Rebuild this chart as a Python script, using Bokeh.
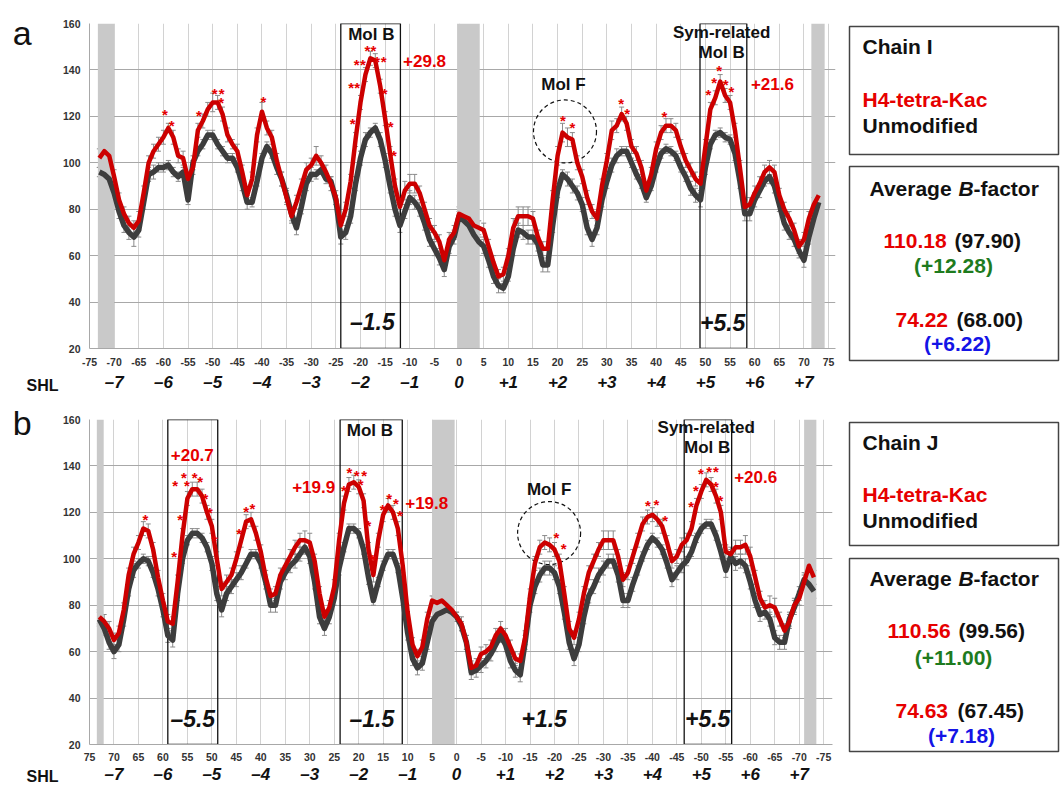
from bokeh.plotting import figure
from bokeh.models import (Range1d, FixedTicker, ColumnDataSource, Whisker, LinearAxis,
                          TeeHead, Row, Column)
from bokeh.core.properties import value
from bokeh.embed import file_html
from bokeh.resources import INLINE

FONT = "Liberation Sans"
RED_LINE = "#cc0000"
RED_TXT = "#e60000"
DARK = "#3d3d3d"

# ---------------- data: panel a (Chain I), positions -73 .. 73 ----------------
a_pos = list(range(-73, 74))
a_h4 = [102, 105, 103, 94, 84, 78, 74, 72, 75, 87,
        100, 105, 108, 111, 115, 111, 103, 102, 93, 98,
        114, 118, 123, 126, 126, 121, 112, 108, 105, 96,
        86, 93, 112, 122, 115, 111, 101, 93, 85, 77,
        83, 90, 97, 99, 103, 100, 96, 91, 85, 73,
        80, 92, 110, 126, 138, 145, 144, 133, 119, 104,
        90, 81, 88, 91, 91, 87, 80, 73, 70, 66,
        58, 67, 70, 78, 77, 76, 73, 72, 71, 64,
        57, 51, 52, 60, 72, 77, 77, 77, 76, 68,
        63, 63, 84, 103, 113, 111, 110, 100, 94, 85,
        79, 76, 90, 101, 114, 116, 121, 117, 107, 104,
        98, 88, 95, 106, 113, 116, 116, 114, 107, 101,
        97, 93, 91, 107, 123, 128, 135, 129, 126, 114,
        98, 81, 82, 87, 91, 96, 98, 96, 86, 80,
        76, 71, 64, 67, 76, 82, 86]
a_h4_err = [4, 5, 4, 3, 3, 3, 3, 3, 4, 3,
            3, 3, 3, 3, 2, 3, 3, 3, 3, 3,
            3, 3, 3, 4, 3, 3, 3, 2, 3, 3,
            3, 3, 3, 4, 3, 3, 3, 3, 3, 3,
            3, 3, 3, 3, 4, 3, 3, 3, 3, 3,
            3, 3, 3, 3, 3, 3, 3, 3, 3, 3,
            3, 3, 4, 4, 4, 3, 3, 3, 3, 3,
            3, 3, 3, 3, 2, 2, 3, 3, 3, 3,
            3, 3, 3, 3, 4, 4, 4, 4, 3, 3,
            3, 3, 4, 4, 4, 4, 3, 3, 3, 3,
            3, 3, 3, 3, 4, 3, 3, 3, 3, 3,
            3, 3, 3, 3, 3, 3, 3, 3, 3, 3,
            3, 3, 3, 3, 3, 3, 3, 3, 3, 3,
            3, 3, 3, 3, 3, 3, 3, 3, 3, 3,
            3, 3, 3, 3, 3, 3, 3]
a_unmod = [96, 95, 93, 87, 79, 73, 70, 68, 71, 83,
           95, 96, 98, 98, 99, 96, 94, 96, 84, 100,
           105, 108, 112, 112, 108, 105, 102, 102, 98, 91,
           83, 83, 92, 102, 107, 104, 98, 93, 86, 78,
           72, 81, 91, 95, 95, 97, 93, 92, 84, 68,
           70, 77, 91, 102, 110, 113, 115, 110, 101, 90,
           80, 73, 79, 85, 83, 80, 74, 67, 63, 59,
           54, 64, 68, 77, 75, 73, 69, 66, 64, 58,
           51, 47, 46, 51, 63, 71, 70, 68, 68, 65,
           56, 56, 73, 88, 95, 93, 90, 87, 82, 72,
           67, 72, 84, 92, 99, 103, 105, 105, 100, 95,
           91, 85, 90, 98, 104, 106, 105, 103, 98, 94,
           89, 86, 84, 98, 108, 112, 113, 111, 110, 104,
           92, 78, 78, 84, 88, 92, 94, 90, 82, 74,
           70, 67, 62, 58, 68, 76, 83]
a_unmod_err = [2, 2, 3, 3, 3, 3, 3, 4, 3, 3,
               3, 3, 2, 2, 2, 2, 2, 2, 2, 3,
               2, 2, 2, 2, 2, 2, 2, 2, 2, 3,
               3, 2, 2, 2, 2, 2, 3, 3, 3, 3,
               3, 3, 3, 3, 2, 2, 2, 2, 2, 3,
               3, 3, 3, 3, 3, 2, 2, 3, 3, 3,
               3, 3, 3, 3, 3, 3, 3, 3, 3, 3,
               3, 3, 3, 2, 2, 2, 2, 2, 3, 3,
               3, 3, 2, 2, 3, 3, 3, 3, 3, 3,
               3, 3, 3, 3, 2, 3, 3, 3, 3, 3,
               3, 3, 3, 3, 3, 3, 2, 2, 2, 2,
               2, 2, 2, 2, 2, 2, 2, 2, 2, 2,
               3, 3, 3, 3, 2, 2, 2, 2, 2, 3,
               3, 3, 3, 3, 3, 2, 3, 3, 3, 3,
               3, 3, 3, 3, 3, 3, 3]

# ---------------- data: panel b (Chain J), positions 73 .. -73 ----------------
b_pos = list(range(73, -74, -1))
b_h4 = [75, 73, 70, 65, 68, 78, 93, 102, 107, 113,
        112, 104, 92, 82, 73, 72, 90, 110, 126, 130,
        130, 127, 120, 114, 100, 87, 90, 93, 100, 108,
        116, 117, 111, 103, 92, 84, 85, 93, 97, 101,
        105, 108, 108, 107, 99, 85, 75, 79, 88, 108,
        124, 132, 133, 131, 125, 104, 93, 108, 119, 123,
        120, 113, 97, 77, 63, 58, 62, 74, 82, 81,
        82, 80, 78, 75, 72, 64, 53, 54, 59, 60,
        62, 67, 70, 67, 62, 57, 56, 66, 84, 98,
        105, 107, 106, 104, 99, 85, 70, 66, 74, 85,
        94, 99, 104, 108, 108, 108, 101, 91, 94, 101,
        108, 115, 118, 119, 117, 114, 107, 99, 101, 106,
        108, 113, 123, 129, 134, 132, 127, 120, 103, 102,
        105, 105, 106, 101, 92, 83, 79, 80, 79, 74,
        69, 73, 80, 83, 90, 97, 92]
b_h4_err = [3, 3, 3, 3, 3, 3, 3, 3, 3, 3,
            3, 3, 3, 3, 3, 3, 3, 3, 3, 3,
            3, 3, 3, 3, 3, 3, 3, 3, 3, 3,
            3, 3, 3, 3, 3, 3, 3, 3, 3, 3,
            3, 3, 4, 4, 3, 3, 3, 3, 3, 3,
            3, 3, 3, 3, 3, 3, 3, 3, 3, 3,
            3, 3, 3, 3, 3, 3, 3, 3, 2, 2,
            2, 2, 2, 2, 3, 3, 3, 3, 3, 3,
            3, 3, 3, 3, 3, 3, 3, 3, 3, 3,
            3, 3, 3, 3, 3, 3, 3, 3, 3, 3,
            3, 3, 3, 4, 4, 4, 3, 3, 3, 3,
            3, 3, 3, 3, 3, 3, 3, 3, 3, 3,
            3, 3, 3, 3, 3, 3, 3, 3, 3, 3,
            3, 3, 4, 4, 3, 3, 3, 4, 4, 3,
            3, 3, 3, 3, 3, 4, 3]
b_unmod = [74, 70, 64, 60, 63, 74, 87, 95, 98, 100,
           99, 94, 87, 78, 67, 65, 85, 100, 108, 111,
           111, 109, 105, 98, 85, 78, 85, 88, 91, 94,
           98, 102, 102, 98, 90, 80, 80, 90, 94, 97,
           99, 102, 105, 101, 90, 75, 70, 75, 83, 96,
           105, 113, 113, 111, 104, 92, 82, 90, 97, 102,
           102, 96, 83, 68, 57, 53, 55, 64, 73, 76,
           77, 78, 77, 75, 71, 64, 51, 52, 54, 56,
           59, 63, 67, 63, 56, 52, 50, 64, 80, 88,
           93, 96, 96, 94, 88, 77, 64, 57, 63, 75,
           84, 88, 93, 96, 99, 99, 93, 82, 82, 89,
           95, 101, 106, 109, 107, 104, 98, 91, 94, 97,
           99, 103, 109, 113, 115, 115, 110, 103, 95, 101,
           98, 99, 97, 90, 82, 76, 77, 74, 66, 64,
           64, 74, 79, 85, 91, 89, 86]
b_unmod_err = [3, 3, 3, 3, 3, 3, 3, 3, 2, 2,
               2, 2, 3, 3, 3, 3, 3, 2, 2, 2,
               2, 2, 2, 3, 3, 3, 3, 3, 3, 3,
               2, 2, 2, 2, 3, 3, 3, 3, 3, 3,
               3, 3, 3, 3, 3, 3, 3, 3, 3, 3,
               2, 2, 2, 2, 2, 3, 2, 2, 2, 2,
               2, 2, 3, 3, 3, 3, 3, 3, 2, 2,
               2, 2, 2, 2, 2, 3, 3, 3, 3, 3,
               3, 3, 3, 3, 3, 3, 3, 3, 3, 3,
               3, 3, 3, 3, 3, 3, 3, 3, 3, 3,
               3, 3, 3, 3, 3, 3, 3, 3, 3, 3,
               2, 2, 2, 2, 2, 2, 2, 3, 3, 3,
               2, 2, 2, 2, 2, 2, 2, 3, 3, 3,
               3, 3, 3, 3, 3, 3, 3, 3, 3, 3,
               3, 3, 3, 3, 3, 3, 3]

# axis ticks
y_ticks = [20, 40, 60, 80, 100, 120, 140, 160]
x_ticks = list(range(-75, 80, 5))
x_tick_labels = [str(t) for t in x_ticks]
shl_labels = ["\u20137", "\u20136", "\u20135", "\u20134", "\u20133", "\u20132", "\u20131", "0",
              "+1", "+2", "+3", "+4", "+5", "+6", "+7"]
a_shl_pos = [-70, -60, -50, -40, -30, -20, -10, 0, 10, 20, 30, 40, 50, 60, 70]
b_shl_pos = [70, 60, 50, 40, 30, 20, 10, 0, -10, -20, -30, -40, -50, -60, -70]

# annotations (shaded DNA ends / dyad, boxes, circles, labels, asterisks)
a_bands = [(-73.3, -70.0), (-0.4, 4.2), (71.5, 74.2)]
b_bands = [(73.5, 72.1), (5.0, 0.4), (-71.0, -73.5)]
a_boxes = [(-24.0, -11.9), (48.9, 58.4)]
b_boxes = [(59.0, 48.8), (23.8, 11.1), (-46.5, -56.2)]
a_circle = (21.5, 113.5)
b_circle = (-18.9, 111.1)

a_black_txt = [("Mol B", -17.8, 155.3), ("Mol F", 21.2, 133.8),
               ("Sym-related", 53.3, 156.0), ("Mol B", 53.3, 147.5)]
a_red_txt = [("+29.8", -7.0, 143.7), ("+21.6", 63.6, 133.8)]
a_big_txt = [("\u20131.5", -17.6, 31.4), ("+5.5", 53.5, 31.4)]
a_stars_x = [-59.7, -58.3, -52.8, -49.6, -48.2, -48.3, -39.7,
             -18.6, -17.4, -20.8, -19.5, -16.6, -15.3, -21.9, -20.7, -21.6, -15.1, -13.9, -13.2,
             21.1, 23.0, 32.9, 34.1, 41.7, 52.8, 51.8, 50.6, 54.1, 55.3]
a_stars_y = [121.0, 116.0, 120.5, 130.0, 130.0, 126.0, 126.5,
             148.5, 148.5, 142.5, 142.5, 143.5, 143.5, 132.5, 132.5, 117.0, 130.0, 115.5, 103.0,
             118.4, 115.1, 125.5, 121.3, 119.8, 139.8, 134.8, 129.5, 133.7, 130.5]

b_black_txt = [("Mol B", 17.7, 155.3), ("Mol F", -18.9, 129.9),
               ("Sym-related", -51.0, 156.4), ("Mol B", -51.2, 147.9)]
b_red_txt = [("+20.7", 54.0, 144.6), ("+19.9", 29.2, 131.0), ("+19.8", 6.1, 123.9),
             ("+20.6", -61.1, 135.3)]
b_big_txt = [("\u20135.5", 53.9, 31.0), ("\u20131.5", 17.3, 31.0), ("+1.5", -17.9, 31.4),
             ("+5.5", -51.3, 31.4)]
b_stars_x = [63.6, 57.5, 55.1, 55.7, 53.5, 52.4, 51.3, 50.4, 49.5, 56.5, 57.7,
             43.0, 41.7, 44.4,
             21.9, 20.4, 18.9, 19.6, 23.0, 18.0, 17.1, 13.8, 15.1, 12.4, 11.6,
             -20.4, -21.9, -39.1, -40.8, -42.6,
             -49.9, -51.6, -53.0, -53.0, -53.9, -48.9, -47.9]
b_stars_y = [117.0, 131.5, 131.5, 135.0, 135.0, 133.5, 126.0, 120.0, 108.0, 117.0, 101.0,
             120.5, 121.5, 110.7,
             137.0, 136.0, 136.0, 132.0, 129.5, 114.5, 99.5, 126.0, 121.3, 123.8, 118.5,
             109.3, 104.4, 122.8, 123.5, 116.7,
             136.7, 137.4, 137.4, 131.0, 125.0, 129.3, 122.4]


def make_panel(xs, h4, h4e, un, une, xr, width, height, borders, bands, boxes, circle,
               black_txt, red_txt, big_txt, sx, sy, shl_pos, tick_standoff, shl_standoff):
    p = figure(width=width, height=height, x_range=Range1d(*xr), y_range=Range1d(20, 160),
               output_backend="svg", toolbar_location=None, tools="")
    p.min_border_left, p.min_border_right, p.min_border_top, p.min_border_bottom = borders
    p.outline_line_color = None
    p.background_fill_color = "white"

    # axes
    p.xaxis.ticker = FixedTicker(ticks=x_ticks)
    p.xaxis.major_label_overrides = {t: lab for t, lab in zip(x_ticks, x_tick_labels)}
    p.yaxis.ticker = FixedTicker(ticks=y_ticks)
    for ax in (p.xaxis[0], p.yaxis[0]):
        ax.major_tick_line_color = None
        ax.major_tick_out = 0
        ax.major_tick_in = 0
        ax.minor_tick_line_color = None
        ax.minor_tick_out = 0
        ax.axis_line_color = "#a8a8a8"
        ax.major_label_text_font = FONT
        ax.major_label_text_font_style = "bold"
        ax.major_label_text_font_size = "10.5px"
        ax.major_label_text_color = "#333333"
    p.xaxis.major_label_standoff = tick_standoff
    p.yaxis.major_label_standoff = 9

    # SHL (superhelix location) axis under the position axis
    shl_axis = LinearAxis(ticker=FixedTicker(ticks=shl_pos),
                          major_label_overrides={t: lab for t, lab in zip(shl_pos, shl_labels)})
    shl_axis.axis_line_color = None
    shl_axis.major_tick_line_color = None
    shl_axis.minor_tick_line_color = None
    shl_axis.major_tick_out = 0
    shl_axis.major_tick_in = 0
    shl_axis.minor_tick_out = 0
    shl_axis.major_label_standoff = shl_standoff
    shl_axis.major_label_text_font = FONT
    shl_axis.major_label_text_font_style = "bold italic"
    shl_axis.major_label_text_font_size = "17px"
    shl_axis.major_label_text_color = "#111111"
    p.add_layout(shl_axis, "below")

    p.xgrid.ticker = FixedTicker(ticks=x_ticks)
    p.ygrid.ticker = FixedTicker(ticks=y_ticks)
    p.xgrid.grid_line_color = "#d2d2d2"
    p.ygrid.grid_line_color = "#a8a8a8"

    # shaded bands
    p.quad(left=[b[0] for b in bands], right=[b[1] for b in bands], bottom=20, top=160,
           fill_color="#c9c9c9", line_color=None)
    # region boxes
    p.quad(left=[b[0] for b in boxes], right=[b[1] for b in boxes], bottom=20, top=160,
           fill_color=None, line_color="#111111", line_width=1.3)
    # Mol F circle
    p.scatter([circle[0]], [circle[1]], marker="circle", size=63, fill_color=None,
              line_color="#111111", line_width=1.2, line_dash="4 3")

    # series with error bars
    src_u = ColumnDataSource(dict(x=xs, y=un, lo=[v - e for v, e in zip(un, une)],
                                  up=[v + e for v, e in zip(un, une)]))
    src_r = ColumnDataSource(dict(x=xs, y=h4, lo=[v - e for v, e in zip(h4, h4e)],
                                  up=[v + e for v, e in zip(h4, h4e)]))
    for src in (src_u, src_r):
        w = Whisker(source=src, base="x", lower="lo", upper="up", line_color="#8a8a8a",
                    line_width=1,
                    lower_head=TeeHead(size=5, line_color="#8a8a8a", line_width=1),
                    upper_head=TeeHead(size=5, line_color="#8a8a8a", line_width=1))
        w.level = "underlay"
        p.add_layout(w)
    p.line("x", "y", source=src_u, line_color=DARK, line_width=5.5, line_join="round")
    p.line("x", "y", source=src_r, line_color=RED_LINE, line_width=4.5, line_join="round")

    # texts
    p.text(x=[t[1] for t in black_txt], y=[t[2] for t in black_txt],
           text=[t[0] for t in black_txt], text_font=value(FONT), text_font_style="bold",
           text_font_size="17px", text_color="#111111", text_align="center",
           text_baseline="middle")
    p.text(x=[t[1] for t in red_txt], y=[t[2] for t in red_txt],
           text=[t[0] for t in red_txt], text_font=value(FONT), text_font_style="bold",
           text_font_size="17px", text_color=RED_TXT, text_align="center",
           text_baseline="middle")
    p.text(x=[t[1] for t in big_txt], y=[t[2] for t in big_txt],
           text=[t[0] for t in big_txt], text_font=value(FONT),
           text_font_style="bold italic", text_font_size="23px", text_color="#111111",
           text_align="center", text_baseline="middle")
    p.text(x=sx, y=sy, text=["*"] * len(sx), text_font=value(FONT), text_font_style="bold",
           text_font_size="15px", text_color=RED_TXT, text_align="center",
           text_baseline="middle")
    return p


def bare(width, height):
    s = figure(width=width, height=height, x_range=Range1d(0, width),
               y_range=Range1d(height, 0), output_backend="svg", toolbar_location=None,
               tools="", x_axis_location=None, y_axis_location=None)
    s.min_border_left = s.min_border_right = s.min_border_top = s.min_border_bottom = 0
    s.outline_line_color = None
    s.xgrid.visible = False
    s.ygrid.visible = False
    return s


def make_strip(height, letter, letter_y, shl_y):
    s = bare(59, height)
    s.text(x=[21.7], y=[letter_y], text=[letter], text_font=value(FONT), text_font_size="34px",
           text_color="#111111", text_align="center", text_baseline="alphabetic")
    s.text(x=[58], y=[shl_y], text=["SHL"], text_font=value(FONT), text_font_style="bold",
           text_font_size="16px", text_color="#111111", text_align="right",
           text_baseline="middle")
    return s


def make_side(height, b1, b2, rows):
    s = bare(222, height)
    s.quad(left=[9, 9], right=[218, 218], top=[b1[0], b2[0]], bottom=[b1[1], b2[1]],
           fill_color=None, line_color="#444444", line_width=1.5)
    xs, ys, ts, cs, fs, al = [], [], [], [], [], []
    for (t, x, y, c, f, a) in rows:
        xs.append(x); ys.append(y); ts.append(t); cs.append(c); fs.append(f); al.append(a)
    src = ColumnDataSource(dict(x=xs, y=ys, t=ts, c=cs, f=fs, a=al))
    s.text(x="x", y="y", text="t", text_color="c", text_font_style="f", text_align="a",
           source=src, text_font=value(FONT), text_font_size="21px", text_baseline="middle")
    return s


pa = make_panel(a_pos, a_h4, a_h4_err, a_unmod, a_unmod_err, (-75, 76.4), 781, 394,
                (27, 5, 23, 44), a_bands, a_boxes, a_circle, a_black_txt, a_red_txt,
                a_big_txt, a_stars_x, a_stars_y, a_shl_pos, 9, 4)
pb = make_panel(b_pos, b_h4, b_h4_err, b_unmod, b_unmod_err, (75, -76.8), 781, 392,
                (28, 8, 25, 40), b_bands, b_boxes, b_circle, b_black_txt, b_red_txt,
                b_big_txt, b_stars_x, b_stars_y, b_shl_pos, 8, 1)
strip_a = make_strip(394, "a", 32, 385)
strip_b = make_strip(392, "b", 28, 382)

GREEN = "#1e7b1e"
BLUE = "#1414e6"
BLK = "#111111"
side_a = make_side(394, (26, 154), (166, 360), [
    ("Chain I", 22, 46, BLK, "bold", "left"),
    ("H4-tetra-Kac", 22, 99, RED_TXT, "bold", "left"),
    ("Unmodified", 22, 125, BLK, "bold", "left"),
    ("Average ", 29, 188, BLK, "bold", "left"),
    ("B", 118, 188, BLK, "bold italic", "left"),
    ("-factor", 133, 188, BLK, "bold", "left"),
    ("110.18", 43, 240, RED_TXT, "bold", "left"),
    ("(97.90)", 114, 240, BLK, "bold", "left"),
    ("(+12.28)", 113, 265, GREEN, "bold", "center"),
    ("74.22", 55, 319, RED_TXT, "bold", "left"),
    ("(68.00)", 116, 319, BLK, "bold", "left"),
    ("(+6.22)", 117, 343, BLUE, "bold", "center"),
])
side_b = make_side(392, (28, 151), (164, 357), [
    ("Chain J", 22, 48, BLK, "bold", "left"),
    ("H4-tetra-Kac", 22, 100, RED_TXT, "bold", "left"),
    ("Unmodified", 22, 126, BLK, "bold", "left"),
    ("Average ", 29, 184, BLK, "bold", "left"),
    ("B", 118, 184, BLK, "bold italic", "left"),
    ("-factor", 133, 184, BLK, "bold", "left"),
    ("110.56", 47, 236, RED_TXT, "bold", "left"),
    ("(99.56)", 118, 236, BLK, "bold", "left"),
    ("(+11.00)", 113, 263, GREEN, "bold", "center"),
    ("74.63", 55, 316, RED_TXT, "bold", "left"),
    ("(67.45)", 117, 316, BLK, "bold", "left"),
    ("(+7.18)", 121, 341, BLUE, "bold", "center"),
])

# nested single-child columns keep each small figure's frame independent of the main plot
row_a = Row(children=[Column(children=[strip_a]), pa, Column(children=[side_a])])
row_b = Row(children=[Column(children=[strip_b]), pb, Column(children=[side_b])])
layout = Column(children=[row_a, row_b])
open("out.html", "w").write(file_html(layout, INLINE))
